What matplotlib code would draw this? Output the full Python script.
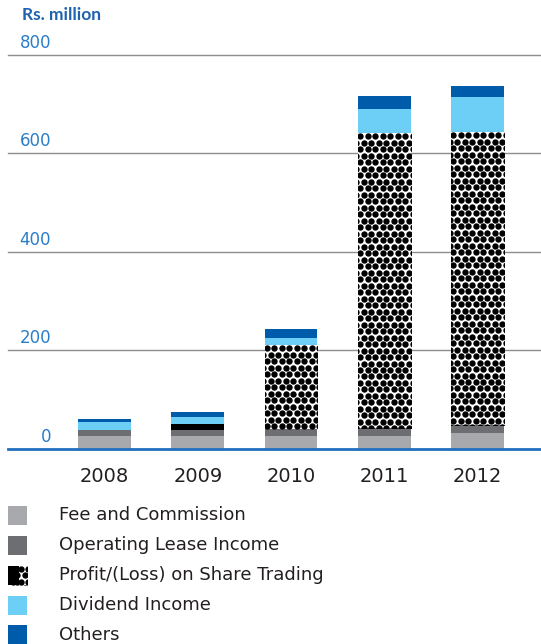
import numpy as np
import matplotlib
matplotlib.use("Agg")
import matplotlib.pyplot as plt
from matplotlib.patches import Rectangle
from matplotlib import transforms

# Income composition, Rs. million
years = ["2008", "2009", "2010", "2011", "2012"]
fee_commission = [25, 25, 25, 25, 31]
operating_lease = [12, 14, 16, 18, 18]
share_trading = [2, 12, 169, 598, 594]
dividend_income = [16, 14, 15, 50, 71]
others = [6, 10, 18, 25, 22]

series_names = ["Fee and Commission", "Operating Lease Income",
                "Profit/(Loss) on Share Trading", "Dividend Income", "Others"]
y_ticks = [0, 200, 400, 600, 800]

C_FEE = "#a7a9ac"
C_LEASE = "#6d6e71"
C_DIV = "#6dcff6"
C_OTH = "#005baa"
C_AXIS = "#1f6fbf"
C_TICK = "#2a7dc9"
C_GRID = "#8e8e8e"
C_TEXT = "#231f20"

W, H, DPI = 541, 644, 100
fig = plt.figure(figsize=(W / DPI, H / DPI), dpi=DPI)
plt.rcParams["font.family"] = ["DejaVu Sans"]

# axes placed in pixel units
ax_left, ax_right, ax_base, ax_top = 8, 541, 448.7, 55
ax = fig.add_axes([ax_left / W, (H - ax_base) / H,
                   (ax_right - ax_left) / W, (ax_base - ax_top) / H])
ax.set_ylim(0, 800)
ax.set_xlim(-1.035, 4.681)
for s in ax.spines.values():
    s.set_visible(False)
ax.set_yticks([])

x = np.arange(len(years))
bw = 0.568

# gridlines
for t in y_ticks[1:]:
    ax.axhline(t, color=C_GRID, lw=1.0, zorder=1, clip_on=False)

bottom = np.zeros(len(years))
ax.bar(x, fee_commission, bw, bottom=bottom, color=C_FEE, zorder=2)
bottom += fee_commission
ax.bar(x, operating_lease, bw, bottom=bottom, color=C_LEASE, zorder=2)
bottom += operating_lease
trade_bars = ax.bar(x, share_trading, bw, bottom=bottom, color="white", zorder=2)
bottom += share_trading
ax.bar(x, dividend_income, bw, bottom=bottom, color=C_DIV, zorder=2)
bottom += dividend_income
ax.bar(x, others, bw, bottom=bottom, color=C_OTH, zorder=2)

ax.axhline(0, color=C_AXIS, lw=2.0, zorder=4, clip_on=False)


def dot_fill(axes, x0, x1, y0, y1, clip_patch, step=7.5, size=21):
    """Fill a rectangle given in display pixels with a hexagonal dot texture."""
    row_h = step * np.sqrt(3) / 2
    pts = []
    r = 0
    yy = y1 - row_h * 0.45
    while yy > y0 - step:
        off = (step / 2) * (r % 2)
        xx = x0 + step * 0.3 + off - step
        while xx < x1 + step:
            pts.append((xx, yy))
            xx += step
        yy -= row_h
        r += 1
    pts = np.array(pts)
    inv = axes.transData.inverted()
    dp = inv.transform(pts)
    sc = axes.scatter(dp[:, 0], dp[:, 1], s=size, c="black", marker="o",
                      linewidths=0, zorder=3)
    sc.set_clip_path(clip_patch)
    return sc


fig.canvas.draw()
for rect in trade_bars:
    bb = rect.get_window_extent()
    if bb.height > 10:
        dot_fill(ax, bb.x0, bb.x1, bb.y0, bb.y1, rect)
    else:
        rect.set_facecolor("black")

# x labels
ax.set_xticks(x)
ax.set_xticklabels(years, fontsize=14, color=C_TEXT)
ax.tick_params(axis="x", length=0, pad=13)

# y labels sitting just above gridlines, right-aligned
lab_x = (51 - ax_left) / (ax_right - ax_left)
trans = transforms.blended_transform_factory(ax.transAxes, ax.transData)
trans = transforms.offset_copy(trans, fig=fig, x=0, y=3, units="dots")
for t in y_ticks:
    ax.text(lab_x, t, str(t), transform=trans, ha="right", va="bottom",
            fontsize=12, color=C_TICK, clip_on=False)

fig.text(22 / W, 1 - 7 / H, "Rs. million", ha="left", va="top",
         fontsize=12.5, fontweight="bold", color="#1f62ad",
         family=["Lato", "DejaVu Sans"])

# legend drawn in pixel coordinates
lg = fig.add_axes([0, 0, 1, 1])
lg.set_xlim(0, W)
lg.set_ylim(H, 0)
lg.axis("off")
lg.patch.set_visible(False)
sq = 19
row_tops = [506, 535.7, 566, 596, 625]
colors = [C_FEE, C_LEASE, None, C_DIV, C_OTH]
for name, col, top in zip(series_names, colors, row_tops):
    if col is None:
        r = Rectangle((8, top), sq, sq, facecolor="white", edgecolor="none")
        lg.add_patch(r)
        lg.add_patch(Rectangle((8, top), 10.5, sq, facecolor="black",
                               edgecolor="none"))
        fig.canvas.draw()
        bb = r.get_window_extent()
        dot_fill(lg, bb.x0 + 10.5, bb.x1, bb.y0, bb.y1, r)
    else:
        lg.add_patch(Rectangle((8, top), sq, sq, facecolor=col, edgecolor="none"))
    lg.text(59, top + sq / 2, name, ha="left", va="center", fontsize=13,
            color=C_TEXT)

fig.savefig("out.png", dpi=DPI)
